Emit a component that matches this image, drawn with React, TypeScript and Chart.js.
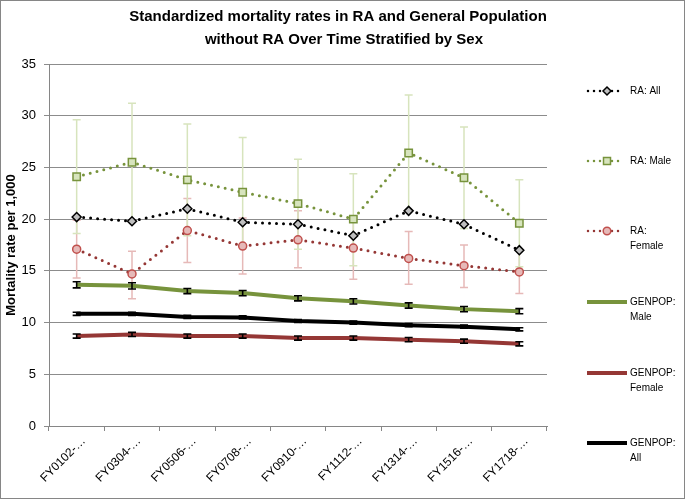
import React, { useEffect, useRef } from 'react';
import { Chart, registerables } from 'chart.js';

Chart.register(...registerables);

// ---- data ----
const categories = ['FY0102-…', 'FY0304-…', 'FY0506-…', 'FY0708-…', 'FY0910-…', 'FY1112-…', 'FY1314-…', 'FY1516-…', 'FY1718-…'];
const yTicks = [0, 5, 10, 15, 20, 25, 30, 35];

const raAll = [20.2, 19.8, 21.0, 19.7, 19.5, 18.4, 20.8, 19.5, 17.0];
const raMale = [24.1, 25.5, 23.8, 22.6, 21.5, 20.0, 26.4, 24.0, 19.6];
const raMaleLow = [18.6, 19.8, 18.4, 17.3, 17.1, 15.5, 20.8, 19.1, 15.4];
const raMaleHigh = [29.6, 31.2, 29.2, 27.9, 25.8, 24.4, 32.0, 28.9, 23.8];
const raFemale = [17.1, 14.7, 18.9, 17.4, 18.0, 17.2, 16.2, 15.5, 14.9];
const raFemaleLow = [14.3, 12.3, 15.8, 14.7, 15.3, 14.2, 13.7, 13.4, 12.8];
const raFemaleHigh = [19.9, 16.9, 22.0, 20.1, 20.8, 20.2, 18.8, 17.5, 17.0];

const genMale = [13.65, 13.55, 13.05, 12.85, 12.35, 12.05, 11.65, 11.3, 11.1];
const genMaleLow = [13.35, 13.25, 12.8, 12.6, 12.1, 11.8, 11.4, 11.05, 10.85];
const genMaleHigh = [13.95, 13.85, 13.3, 13.1, 12.6, 12.3, 11.9, 11.55, 11.35];
const genFemale = [8.7, 8.85, 8.7, 8.7, 8.5, 8.5, 8.35, 8.2, 7.95];
const genFemaleLow = [8.5, 8.65, 8.5, 8.5, 8.3, 8.3, 8.15, 8.0, 7.75];
const genFemaleHigh = [8.9, 9.05, 8.9, 8.9, 8.7, 8.7, 8.55, 8.4, 8.15];
const genAll = [10.85, 10.85, 10.55, 10.5, 10.15, 10.0, 9.75, 9.6, 9.35];
const genAllLow = [10.7, 10.7, 10.4, 10.35, 10.0, 9.85, 9.6, 9.45, 9.2];
const genAllHigh = [11.0, 11.0, 10.7, 10.65, 10.3, 10.15, 9.9, 9.75, 9.5];

const titleLines = ['Standardized mortality rates in RA and General Population', 'without RA Over Time Stratified by Sex'];
const yTitle = 'Mortality rate per 1,000';

const GREEN = '#77933c';
const GREEN_LIGHT = '#d7e4bd';
const RED = '#953735';
const RED_MARK = '#c0504d';
const PINK = '#e6b9b8';
const FONT = "'Liberation Sans', Arial, sans-serif";

type LegendItem = { lines: string[]; color: string; dotted: boolean; marker?: string; fill?: string; stroke?: string; y: number };
const legendItems: LegendItem[] = [
  { lines: ['RA: All'], color: '#000', dotted: true, marker: 'diamond', fill: '#bfbfbf', stroke: '#000', y: 91 },
  { lines: ['RA: Male'], color: GREEN, dotted: true, marker: 'square', fill: GREEN_LIGHT, stroke: GREEN, y: 161 },
  { lines: ['RA:', 'Female'], color: RED, dotted: true, marker: 'circle', fill: PINK, stroke: RED_MARK, y: 231 },
  { lines: ['GENPOP:', 'Male'], color: GREEN, dotted: false, y: 302 },
  { lines: ['GENPOP:', 'Female'], color: RED, dotted: false, y: 373 },
  { lines: ['GENPOP:', 'All'], color: '#000', dotted: false, y: 443 },
];

const errorBarsPlugin = (phase: 'before' | 'after') => ({
  id: 'errbars_' + phase,
  [phase === 'before' ? 'beforeDatasetsDraw' : 'afterDatasetsDraw']: (chart: any) => {
    const ctx = chart.ctx;
    const yScale = chart.scales.y;
    chart.data.datasets.forEach((ds: any, i: number) => {
      if (!ds.errLow || ds.errPhase !== phase) return;
      const meta = chart.getDatasetMeta(i);
      ctx.save();
      ctx.strokeStyle = ds.errColor;
      ctx.lineWidth = ds.errWidth;
      meta.data.forEach((pt: any, j: number) => {
        const x = pt.x;
        const yl = yScale.getPixelForValue(ds.errLow[j]);
        const yh = yScale.getPixelForValue(ds.errHigh[j]);
        const c = ds.errCap;
        ctx.beginPath();
        ctx.moveTo(x, yl);
        ctx.lineTo(x, yh);
        ctx.moveTo(x - c, yl);
        ctx.lineTo(x + c, yl);
        ctx.moveTo(x - c, yh);
        ctx.lineTo(x + c, yh);
        ctx.stroke();
      });
      ctx.restore();
    });
  },
});

const decorPlugin = {
  id: 'decor',
  afterDraw: (chart: any) => {
    const ctx = chart.ctx;
    const W = chart.width;
    const H = chart.height;
    ctx.save();
    // border
    ctx.strokeStyle = '#868686';
    ctx.lineWidth = 1;
    ctx.strokeRect(0.5, 0.5, W - 1, H - 1);
    // title
    ctx.fillStyle = '#000';
    ctx.font = `bold 15px ${FONT}`;
    ctx.textAlign = 'center';
    ctx.textBaseline = 'middle';
    ctx.fillText(titleLines[0], 338, 17);
    ctx.fillText(titleLines[1], 344, 40);
    // legend
    ctx.font = `10px ${FONT}`;
    ctx.textAlign = 'left';
    legendItems.forEach((it) => {
      const y = it.y;
      ctx.save();
      ctx.strokeStyle = it.color;
      if (it.dotted) {
        ctx.lineWidth = 2.5;
        ctx.lineCap = 'round';
        ctx.setLineDash([0, 6]);
        ctx.beginPath();
        ctx.moveTo(588, y);
        ctx.lineTo(622, y);
        ctx.stroke();
      } else {
        ctx.lineWidth = 4;
        ctx.beginPath();
        ctx.moveTo(587, y);
        ctx.lineTo(627, y);
        ctx.stroke();
      }
      ctx.restore();
      if (it.marker) {
        ctx.save();
        ctx.fillStyle = it.fill;
        ctx.strokeStyle = it.stroke;
        ctx.lineWidth = 1.5;
        ctx.beginPath();
        const mx = 607;
        if (it.marker === 'diamond') {
          ctx.moveTo(mx, y - 4);
          ctx.lineTo(mx + 4, y);
          ctx.lineTo(mx, y + 4);
          ctx.lineTo(mx - 4, y);
          ctx.closePath();
        } else if (it.marker === 'square') {
          ctx.rect(mx - 3.5, y - 3.5, 7, 7);
        } else {
          ctx.arc(mx, y, 3.8, 0, Math.PI * 2);
        }
        ctx.fill();
        ctx.stroke();
        ctx.restore();
      }
      ctx.fillStyle = '#000';
      it.lines.forEach((ln, k) => ctx.fillText(ln, 630, y + k * 15));
    });
    ctx.restore();
  },
};

export default function App() {
  const ref = useRef<HTMLCanvasElement | null>(null);
  useEffect(() => {
    document.body.style.margin = '0';
    const canvas = ref.current;
    if (!canvas) return;
    const dotted = { borderWidth: 3, borderDash: [0, 7], borderCapStyle: 'round' as const };
    const chart = new Chart(canvas, {
      type: 'line',
      data: {
        labels: categories,
        datasets: [
          {
            label: 'GENPOP: Male', data: genMale, borderColor: GREEN, borderWidth: 4, pointRadius: 0, tension: 0,
            errLow: genMaleLow, errHigh: genMaleHigh, errColor: '#000', errWidth: 1.6, errCap: 4, errPhase: 'after',
          } as any,
          {
            label: 'GENPOP: Female', data: genFemale, borderColor: RED, borderWidth: 4, pointRadius: 0,
            errLow: genFemaleLow, errHigh: genFemaleHigh, errColor: '#000', errWidth: 1.6, errCap: 4, errPhase: 'after',
          } as any,
          {
            label: 'GENPOP: All', data: genAll, borderColor: '#000', borderWidth: 4, pointRadius: 0,
            errLow: genAllLow, errHigh: genAllHigh, errColor: '#000', errWidth: 1.6, errCap: 4, errPhase: 'after',
          } as any,
          {
            label: 'RA: Female', data: raFemale, borderColor: RED, ...dotted,
            pointStyle: 'circle', pointRadius: 4, pointBackgroundColor: PINK, pointBorderColor: RED_MARK, pointBorderWidth: 1.5,
            errLow: raFemaleLow, errHigh: raFemaleHigh, errColor: PINK, errWidth: 1.5, errCap: 4, errPhase: 'before',
          } as any,
          {
            label: 'RA: All', data: raAll, borderColor: '#000', ...dotted,
            pointStyle: 'rectRot', pointRadius: 4.5, pointBackgroundColor: '#bfbfbf', pointBorderColor: '#000', pointBorderWidth: 1.5,
          } as any,
          {
            label: 'RA: Male', data: raMale, borderColor: GREEN, ...dotted,
            pointStyle: 'rect', pointRadius: 5.2, pointBackgroundColor: GREEN_LIGHT, pointBorderColor: GREEN, pointBorderWidth: 1.5,
            errLow: raMaleLow, errHigh: raMaleHigh, errColor: GREEN_LIGHT, errWidth: 1.5, errCap: 4, errPhase: 'before',
          } as any,
        ],
      },
      options: {
        animation: false,
        responsive: false,
        maintainAspectRatio: false,
        layout: { padding: { top: 64, right: 138, left: 0, bottom: 0 } },
        plugins: { legend: { display: false }, title: { display: false }, tooltip: { enabled: false } },
        scales: {
          x: {
            type: 'category',
            offset: true,
            grid: { display: true, offset: true, drawOnChartArea: false, tickLength: 5, color: '#868686' },
            border: { color: '#868686' },
            ticks: { color: '#000', font: { family: FONT, size: 12 }, minRotation: 45, maxRotation: 45, autoSkip: false, padding: 3, labelOffset: 7 },
            afterFit: (s: any) => { s.height = 73; },
          },
          y: {
            min: 0,
            max: 35,
            afterBuildTicks: (s: any) => { s.ticks = yTicks.map((v) => ({ value: v })); },
            grid: { color: '#8c8c8c', tickLength: 5 },
            border: { color: '#868686' },
            ticks: { color: '#000', font: { family: FONT, size: 13 }, padding: 8 },
            title: { display: true, text: yTitle, color: '#000', font: { family: FONT, size: 13, weight: 'bold' }, padding: { top: 4, bottom: 0 } },
            afterFit: (s: any) => { s.width = 49; },
          },
        },
      },
      plugins: [errorBarsPlugin('before'), errorBarsPlugin('after'), decorPlugin],
    });
    return () => chart.destroy();
  }, []);
  return (
    <div style={{ position: 'absolute', left: 0, top: 0, width: 685, height: 499 }}>
      <canvas ref={ref} width={685} height={499} style={{ width: 685, height: 499, display: 'block' }} />
    </div>
  );
}
